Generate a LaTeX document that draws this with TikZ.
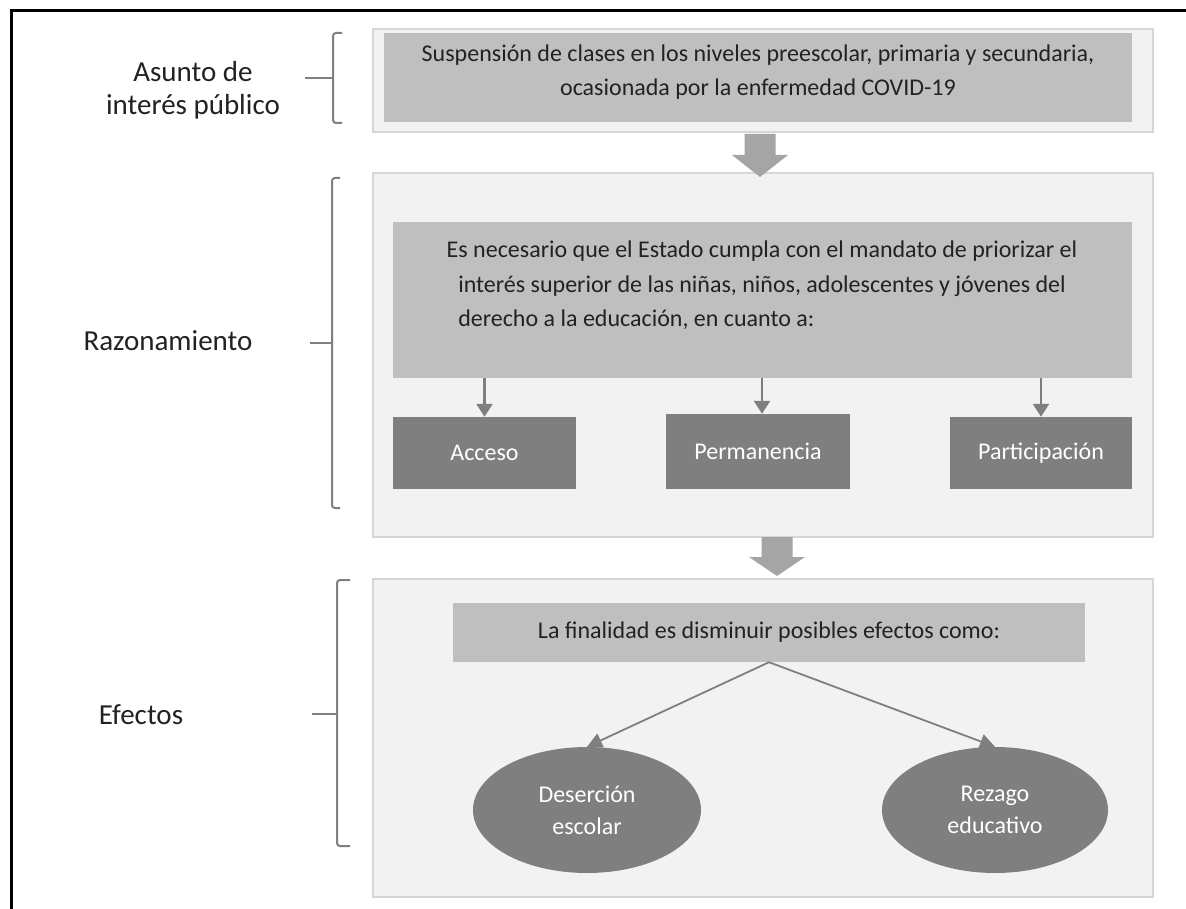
\documentclass[tikz,border=0pt]{standalone}
\usepackage{fontspec}
\setmainfont{Carlito}
\usetikzlibrary{arrows.meta,shapes.geometric}
\definecolor{panel}{HTML}{F2F2F2}
\definecolor{panelline}{HTML}{D6D6D6}
\definecolor{lightfill}{HTML}{BFBFBF}
\definecolor{darkfill}{HTML}{7F7F7F}
\definecolor{blockarrow}{HTML}{A5A5A5}
\definecolor{inktext}{HTML}{222222}
\begin{document}
\begin{tikzpicture}[x=1pt,y=-1pt,
  panelbox/.style={draw=panelline, line width=2pt, fill=panel, inner sep=0pt},
  lightbox/.style={fill=lightfill, inner sep=0pt},
  darkbox/.style={fill=darkfill, text=white, inner sep=0pt, font=\fontsize{24}{30}\selectfont},
  bodytext/.style={font=\fontsize{24}{34.5}\selectfont, text=inktext, align=center, inner sep=0pt},
  labeltext/.style={font=\fontsize{29}{33}\selectfont, align=center, text=inktext, inner sep=0pt},
  ovalbox/.style={ellipse, fill=darkfill, text=white, inner sep=0pt, align=center, font=\fontsize{24}{32}\selectfont},
  bracket/.style={draw=darkfill, line width=2pt, rounded corners=3pt},
  smallarrow/.style={draw=darkfill, line width=2.5pt, -{Triangle[width=16pt,length=13pt]}},
  diagarrow/.style={draw=darkfill, line width=1.8pt, -{Triangle[width=15pt,length=15pt]}},
  blockarr/.style={fill=blockarrow}
]
\useasboundingbox (0,0) rectangle (1186,909);
\fill[white] (0,0) rectangle (1186,909);
% frame
\draw[line width=3pt, line join=miter] (11,909) -- (11,11) -- (1186,11);

% labels
\node[labeltext] (lab1) at (193,90) {Asunto de\\interés público};
\node[labeltext] (lab2) at (168,341) {Razonamiento};
\node[labeltext] (lab3) at (141,715) {Efectos};

% brackets
\draw[bracket] (342,33) -- (333,33) -- (333,123) -- (342,123);
\draw[darkfill, line width=2pt] (305,78) -- (333,78);
\draw[bracket] (340,178) -- (332,178) -- (332,508) -- (340,508);
\draw[darkfill, line width=2pt] (310,343) -- (332,343);
\draw[bracket] (350,580) -- (337,580) -- (337,846) -- (350,846);
\draw[darkfill, line width=2pt] (312,714) -- (337,714);

% panel 1
\node[panelbox, minimum width=780pt, minimum height=103pt] (b1out) at (763,80.5) {};
\node[lightbox, minimum width=748pt, minimum height=89pt] (b1in) at (758,77.5) {};
\node[bodytext] (t1) at (758,72) {Suspensión de clases en los niveles preescolar, primaria y secundaria,\\ocasionada por la enfermedad COVID-19};

% panel 2
\node[panelbox, minimum width=780pt, minimum height=364pt] (b2out) at (763,355) {};
\node[lightbox, minimum width=739pt, minimum height=156pt] (b2in) at (762.5,300) {};
\node[bodytext] (t2) at (762,286) {Es necesario que el Estado cumpla con el mandato de priorizar el\\interés superior de las niñas, niños, adolescentes y jóvenes del\\\rlap{derecho a la educación, en cuanto a:}\phantom{interés superior de las niñas, niños, adolescentes y jóvenes del}};
\node[darkbox, minimum width=183pt, minimum height=72pt] (acc) at (484.5,453) {Acceso};
\node[darkbox, minimum width=184pt, minimum height=75pt] (perm) at (758,451.5) {Permanencia};
\node[darkbox, minimum width=182pt, minimum height=72pt] (part) at (1041,453) {Participación};
\draw[smallarrow] (b2in.south -| acc.north) -- (acc.north);
\draw[smallarrow] ([xshift=4pt]b2in.south -| perm.north) -- ([xshift=4pt]perm.north);
\draw[smallarrow] (b2in.south -| part.north) -- (part.north);

% panel 3
\node[panelbox, minimum width=780pt, minimum height=318pt] (b3out) at (763,738) {};
\node[lightbox, bodytext, minimum width=632pt, minimum height=59pt] (b3in) at (769,632.5) {La finalidad es disminuir posibles efectos como:};
\node[ovalbox, minimum width=228pt, minimum height=126pt] (e1) at (587,810) {Deserción\\escolar};
\node[ovalbox, minimum width=226pt, minimum height=126pt] (e2) at (995,810) {Rezago\\educativo};
\draw[diagarrow] (b3in.south) -- (e1.north);
\draw[diagarrow] (b3in.south) -- (e2.north);

% block arrows
\fill[blockarr] (744.5,134) -- (775.5,134) -- (775.5,155) -- (788,155) -- (760,177) -- (732,155) -- (744.5,155) -- cycle;
\fill[blockarr] (761.5,537) -- (792.5,537) -- (792.5,557) -- (805,557) -- (777,576) -- (749,557) -- (761.5,557) -- cycle;
\end{tikzpicture}
\end{document}
